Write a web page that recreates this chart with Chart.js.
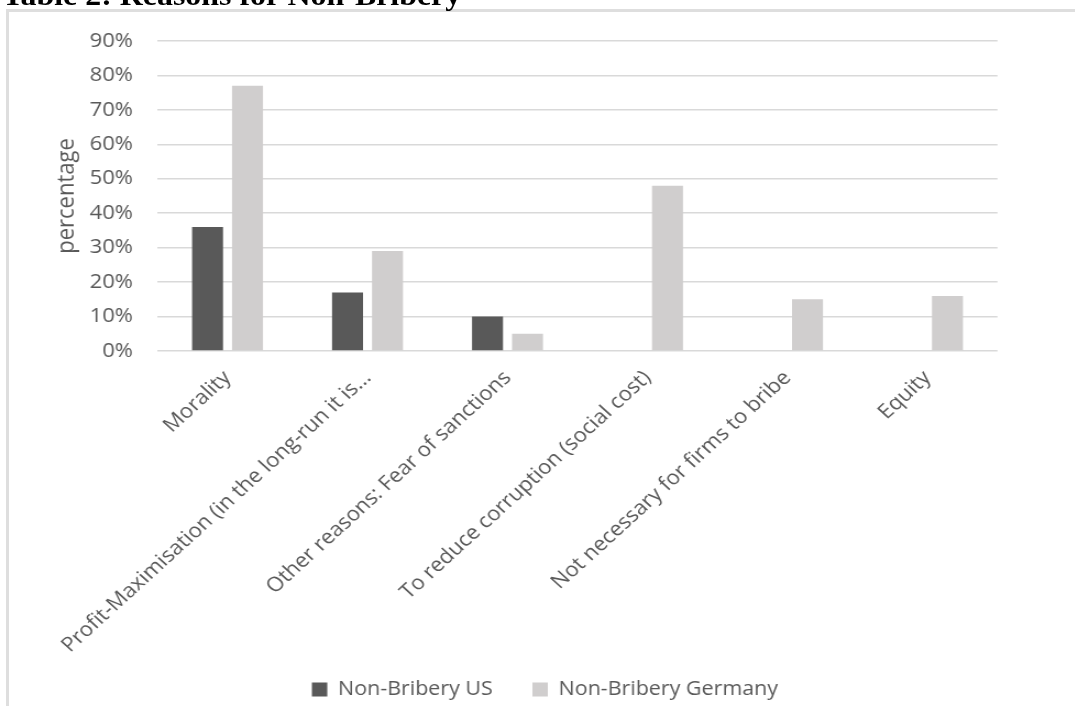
<!DOCTYPE html>
<html>
<head>
<meta charset="utf-8">
<title>Reasons for Non-Bribery</title>
<script src="https://cdn.jsdelivr.net/npm/chart.js@4.4.1/dist/chart.umd.min.js"></script>
<style>
  html, body { margin: 0; padding: 0; background: #fff; }
  body { width: 1075px; height: 706px; overflow: hidden; position: relative; }
  /* the figure is a slightly widened export, so the whole drawing is stretched horizontally */
  #stretch { position: absolute; left: 0; top: 0; width: 977px; height: 706px; transform: scaleX(1.1); transform-origin: 0 0; }
  #heading { position: absolute; left: 2px; top: -19px; font: bold 29px "Liberation Serif", "Times New Roman", serif; line-height: 29px; white-space: nowrap; color: #000; }
  #frame { position: absolute; left: 6px; top: 9px; right: 0; bottom: 0; border-left: 3px solid #dedede; border-top: 3px solid #dedede; }
  canvas { position: absolute; left: 0; top: 0; }
</style>
</head>
<body>
<div id="frame"></div>
<div id="stretch">
  <div id="heading">Table 2: Reasons for Non-Bribery</div>
  <canvas id="reasonsChart" width="977" height="706"></canvas>
</div>
<script>
const categories = [
  'Morality',
  'Profit-Maximisation (in the long-run it is...',
  'Other reasons: Fear of sanctions',
  'To reduce corruption (social cost)',
  'Not necessary for firms to bribe',
  'Equity'
];
const usValues = [36, 17, 10, null, null, null];
const germanyValues = [77, 29, 5, 48, 15, 16];
const yTicks = [0, 10, 20, 30, 40, 50, 60, 70, 80, 90];

const fontFamily = '"Open Sans", sans-serif';
const textColor = '#595959';

// the long rotated category names run past the axis box, so let them
// draw down to the canvas edge; the legend row is nudged right a little
const layoutTweaks = {
  id: 'layoutTweaks',
  afterLayout(chart) {
    chart.scales.x.bottom = chart.height;
    const lg = chart.legend;
    if (lg) { lg.left += 42; lg.right += 42; }
  }
};

new Chart('reasonsChart', {
  type: 'bar',
  data: {
    labels: categories,
    datasets: [
      { label: 'Non-Bribery US', data: usValues, backgroundColor: '#595959', borderWidth: 0 },
      { label: 'Non-Bribery Germany', data: germanyValues, backgroundColor: '#d0cece', borderWidth: 0 }
    ]
  },
  options: {
    responsive: false,
    animation: false,
    devicePixelRatio: 1,
    categoryPercentage: 0.571,
    barPercentage: 0.775,
    layout: { padding: { top: 41, left: 0, right: 70.2, bottom: -3.25 } },
    plugins: {
      tooltip: { enabled: false },
      legend: {
        position: 'bottom',
        labels: {
          font: { family: fontFamily, size: 19.5 },
          color: textColor,
          boxWidth: 14,
          boxHeight: 14,
          padding: 36
        }
      }
    },
    scales: {
      x: {
        grid: { display: false, drawTicks: false },
        border: { display: false },
        ticks: {
          font: { family: fontFamily, size: 20.2 },
          color: textColor,
          autoSkip: false,
          minRotation: 45,
          maxRotation: 45,
          padding: 15
        },
        afterFit(scale) { scale.height = 292.75; }
      },
      y: {
        min: 0,
        max: 90,
        grid: { color: '#d9d9d9', lineWidth: 1.5, drawTicks: false },
        border: { display: false },
        ticks: {
          font: { family: fontFamily, size: 20 },
          color: textColor,
          padding: 22.3,
          callback: v => v + '%'
        },
        afterBuildTicks(scale) { scale.ticks = yTicks.map(v => ({ value: v })); },
        afterFit(scale) { scale.width = 143.2; },
        title: {
          display: true,
          text: 'percentage',
          font: { family: fontFamily, size: 22 },
          color: textColor,
          padding: { top: 47.8, bottom: 0 }
        }
      }
    }
  },
  plugins: [layoutTweaks]
});
</script>
</body>
</html>
